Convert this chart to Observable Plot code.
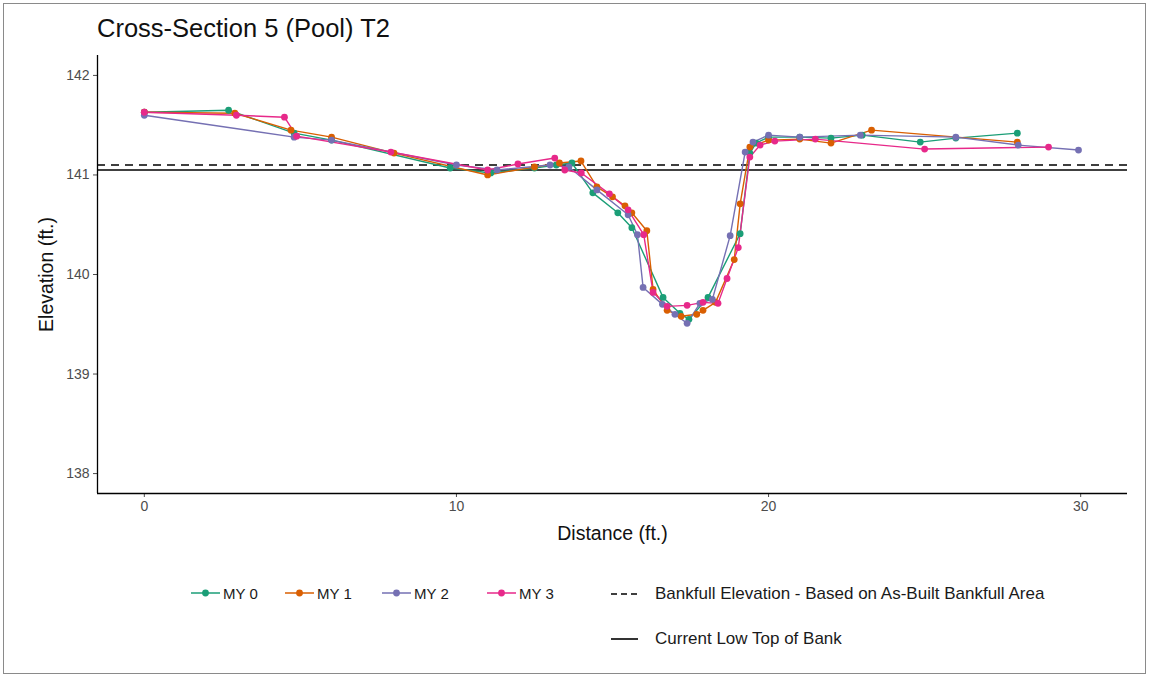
<!DOCTYPE html>
<html>
<head>
<meta charset="utf-8">
<script src="https://cdn.jsdelivr.net/npm/d3@7"></script>
<script src="https://cdn.jsdelivr.net/npm/@observablehq/plot@0.6"></script>
<style>
  html, body { margin: 0; padding: 0; background: #fff; }
  body { width: 1151px; height: 679px; overflow: hidden; font-family: "Liberation Sans", Arial, Helvetica, sans-serif; }
  #wrap { position: relative; width: 1151px; height: 679px; }
  #border { position: absolute; left: 3px; top: 3px; width: 1143px; height: 671px; border: 1.5px solid #8a8a8a; box-sizing: border-box; }
  #title { position: absolute; left: 97px; top: 14px; font-size: 25.5px; color: #111; }
  #chart { position: absolute; left: 0; top: 40px; }
  .leg { position: absolute; font-size: 15px; color: #1a1a1a; display: flex; align-items: center; white-space: nowrap; }
  .leg svg { display: block; }
</style>
</head>
<body>
<div id="wrap">
  <div id="border"></div>
  <div id="title">Cross-Section 5 (Pool) T2</div>
  <div id="chart"></div>
  <div id="legend"></div>
</div>
<script>
// ---- Data ----
const seriesNames = ["MY 0", "MY 1", "MY 2", "MY 3"];
const seriesColors = ["#1B9E77", "#D95F02", "#7570B3", "#E7298A"];

const my0Dist = [0, 2.7, 4.8, 6.0, 9.8, 11.1, 12.5, 13.2, 13.7, 14.37, 15.17, 15.62, 16.62, 17.16, 17.45, 18.06, 19.09, 19.4, 19.6, 20.0, 21.0, 22.0, 23.0, 24.86, 26.0, 27.97];
const my0Elev = [141.63, 141.65, 141.42, 141.35, 141.07, 141.02, 141.07, 141.10, 141.12, 140.82, 140.62, 140.47, 139.77, 139.61, 139.55, 139.77, 140.41, 141.22, 141.32, 141.38, 141.38, 141.37, 141.40, 141.33, 141.37, 141.42];

const my1Dist = [0, 2.9, 4.7, 6.0, 8.0, 11.0, 12.5, 13.3, 13.99, 14.5, 15.0, 15.4, 15.62, 16.1, 16.3, 16.75, 17.2, 17.7, 17.9, 18.3, 18.9, 19.09, 19.4, 20.0, 21.0, 22.0, 23.3, 27.97];
const my1Elev = [141.63, 141.62, 141.45, 141.38, 141.22, 141.00, 141.08, 141.12, 141.14, 140.88, 140.78, 140.69, 140.62, 140.44, 139.85, 139.64, 139.58, 139.60, 139.64, 139.72, 140.15, 140.71, 141.28, 141.35, 141.36, 141.32, 141.45, 141.33];

const my2Dist = [0, 4.8, 6.0, 10.0, 11.3, 13.0, 13.6, 14.5, 15.5, 15.8, 15.98, 16.6, 17.0, 17.39, 17.8, 18.2, 18.77, 19.25, 19.5, 20.0, 21.0, 22.94, 26.0, 28.0, 29.93];
const my2Elev = [141.60, 141.38, 141.35, 141.10, 141.05, 141.10, 141.08, 140.85, 140.60, 140.40, 139.87, 139.70, 139.60, 139.51, 139.71, 139.75, 140.39, 141.23, 141.33, 141.40, 141.38, 141.40, 141.38, 141.30, 141.25];

const my3Dist = [0, 2.95, 4.49, 4.88, 7.9, 11.0, 11.97, 13.15, 13.47, 14.0, 14.9, 15.5, 16.0, 16.3, 16.75, 17.39, 17.9, 18.38, 18.67, 19.03, 19.4, 19.73, 20.2, 21.5, 25.0, 28.97];
const my3Elev = [141.63, 141.60, 141.58, 141.39, 141.23, 141.05, 141.11, 141.17, 141.05, 141.02, 140.81, 140.65, 140.40, 139.82, 139.68, 139.69, 139.72, 139.71, 139.96, 140.27, 141.18, 141.30, 141.34, 141.36, 141.26, 141.28];

const bankfullElevation = 141.10;
const lowTopOfBank = 141.05;

const xTicks = [0, 10, 20, 30];
const yTicks = [138, 139, 140, 141, 142];

// ---- Build table ----
const allDist = [my0Dist, my1Dist, my2Dist, my3Dist];
const allElev = [my0Elev, my1Elev, my2Elev, my3Elev];
const rows = [];
seriesNames.forEach((name, i) => {
  allDist[i].forEach((d, j) => rows.push({ series: name, dist: d, elev: allElev[i][j] }));
});

const xDomain = [-1.5, 31.5];
const yDomain = [137.8, 142.2];

const chart = Plot.plot({
  width: 1151,
  height: 520,
  marginTop: 15,
  marginBottom: 67,
  marginLeft: 97,
  marginRight: 24,
  style: { fontFamily: '"Liberation Sans", Arial, Helvetica, sans-serif', background: "transparent" },
  x: { domain: xDomain },
  y: { domain: yDomain },
  color: { domain: seriesNames, range: seriesColors },
  marks: [
    Plot.axisX({ ticks: xTicks, tickFormat: d3.format("d"), tickSize: 4, tickPadding: 4, fontSize: 14, color: "#4d4d4d", label: null }),
    Plot.axisX({ ticks: [], label: "Distance (ft.)", labelAnchor: "center", labelArrow: "none", labelOffset: 46, fontSize: 19.5, color: "#111" }),
    Plot.axisY({ ticks: yTicks, tickFormat: d3.format("d"), tickSize: 4, tickPadding: 4, fontSize: 14, color: "#4d4d4d", label: null }),
    Plot.axisY({ ticks: [], label: "Elevation (ft.)", labelAnchor: "center", labelArrow: "none", labelOffset: 58, fontSize: 19.5, color: "#111" }),
    Plot.ruleY([bankfullElevation], { stroke: "#000", strokeWidth: 1.6, strokeDasharray: "8,6" }),
    Plot.ruleY([lowTopOfBank], { stroke: "#000", strokeWidth: 1.6 }),
    Plot.line(rows, { x: "dist", y: "elev", z: "series", stroke: "series", strokeWidth: 1.4 }),
    Plot.dot(rows, { x: "dist", y: "elev", fill: "series", r: 3.4 }),
    Plot.ruleX([xDomain[0]], { stroke: "#000", strokeWidth: 1.3 }),
    Plot.ruleY([yDomain[0]], { stroke: "#000", strokeWidth: 1.3 })
  ]
});
document.getElementById("chart").appendChild(chart);

// ---- Legend ----
const legend = document.getElementById("legend");
const legLefts = [191, 285, 382, 487];
seriesNames.forEach((name, i) => {
  const d = document.createElement("div");
  d.className = "leg";
  d.style.left = legLefts[i] + "px";
  d.style.top = "584px";
  d.innerHTML = `<svg width="29" height="18"><line x1="0" x2="29" y1="9" y2="9" stroke="${seriesColors[i]}" stroke-width="1.5"/><circle cx="14.5" cy="9" r="3.4" fill="${seriesColors[i]}"/></svg><span style="margin-left:3px">${name}</span>`;
  legend.appendChild(d);
});
const lineKeys = [
  { label: "Bankfull Elevation - Based on As-Built Bankfull Area", dash: "6,4", top: 584 },
  { label: "Current Low Top of Bank", dash: null, top: 629 }
];
lineKeys.forEach(k => {
  const d = document.createElement("div");
  d.className = "leg";
  d.style.left = "610px";
  d.style.top = k.top + "px";
  d.innerHTML = `<svg width="29" height="18"><line x1="1" x2="28" y1="9" y2="9" stroke="#000" stroke-width="1.6" ${k.dash ? `stroke-dasharray="${k.dash}"` : ""}/></svg><span style="margin-left:16px;font-size:17px">${k.label}</span>`;
  legend.appendChild(d);
});
</script>
</body>
</html>
